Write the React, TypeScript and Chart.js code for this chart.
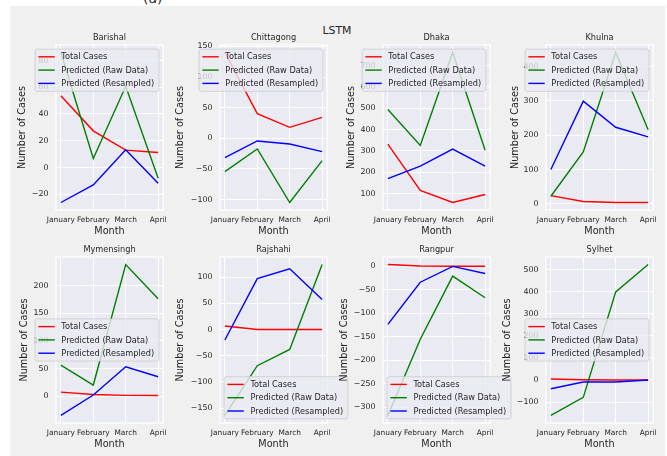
import React, { useEffect, useRef } from 'react';
import { Chart, registerables } from 'chart.js';

Chart.register(...registerables);

const FAMILY = '"DejaVu Sans", "Liberation Sans", sans-serif';
const TEXT = '#262626';

const months = ['January', 'February', 'March', 'April'];
const seriesNames = ['Total Cases', 'Predicted (Raw Data)', 'Predicted (Resampled)'];
const seriesColors = ['#ff0000', '#008000', '#0000ff'];

const barishalTotal = [53.6, 27.4, 13, 11.2];
const barishalRaw = [86, 6.7, 60.7, -8];
const barishalResampled = [-26.2, -13, 13.2, -11.8];
const barishalTicks = [-20, 0, 20, 40, 60, 80];

const chittagongTotal = [140, 40.2, 17.9, 34.2];
const chittagongRaw = [-54.3, -17.4, -104.7, -36.3];
const chittagongResampled = [-31.4, -4.3, -9.2, -21.7];
const chittagongTicks = [-100, -50, 0, 50, 100, 150];

const dhakaTotal = [331, 114, 57.7, 95];
const dhakaRaw = [494, 325, 761, 303];
const dhakaResampled = [170, 228, 308, 228];
const dhakaTicks = [100, 200, 300, 400, 500, 600, 700];

const khulnaTotal = [24, 6.7, 3.8, 3.8];
const khulnaRaw = [22, 151, 441, 216];
const khulnaResampled = [100, 299, 223, 195];
const khulnaTicks = [0, 100, 200, 300, 400];

const mymensinghTotal = [7.2, 3, 1.3, 1];
const mymensinghRaw = [56, 20, 238, 176];
const mymensinghResampled = [-35, 2, 53, 35];
const mymensinghTicks = [0, 50, 100, 150, 200];

const rajshahiTotal = [6.8, 0, 0, 0];
const rajshahiRaw = [-164, -69, -38, 124];
const rajshahiResampled = [-20, 97, 116, 57.5];
const rajshahiTicks = [-150, -100, -50, 0, 50, 100];

const rangpurTotal = [3.5, 0.5, 0, 0];
const rangpurRaw = [-317, -155, -21, -67];
const rangpurResampled = [-123.5, -34, -0.5, -15.5];
const rangpurTicks = [-300, -250, -200, -150, -100, -50, 0];

const sylhetTotal = [4.5, 1, 0, 0];
const sylhetRaw = [-161, -79, 400, 524];
const sylhetResampled = [-40, -9, -9, 0];
const sylhetTicks = [-100, 0, 100, 200, 300, 400, 500];

type Loc = 'ur' | 'cr' | 'll';
type Panel = {
  name: string;
  series: number[][];
  ticks: number[];
  loc: Loc;
  labelX: number;
  col: number;
  row: number;
};

const panels: Panel[] = [
  { name: 'Barishal', series: [barishalTotal, barishalRaw, barishalResampled], ticks: barishalTicks, loc: 'ur', labelX: 22.7, col: 0, row: 0 },
  { name: 'Chittagong', series: [chittagongTotal, chittagongRaw, chittagongResampled], ticks: chittagongTicks, loc: 'ur', labelX: 180, col: 1, row: 0 },
  { name: 'Dhaka', series: [dhakaTotal, dhakaRaw, dhakaResampled], ticks: dhakaTicks, loc: 'ur', labelX: 351.7, col: 2, row: 0 },
  { name: 'Khulna', series: [khulnaTotal, khulnaRaw, khulnaResampled], ticks: khulnaTicks, loc: 'ur', labelX: 515, col: 3, row: 0 },
  { name: 'Mymensingh', series: [mymensinghTotal, mymensinghRaw, mymensinghResampled], ticks: mymensinghTicks, loc: 'cr', labelX: 24.5, col: 0, row: 1 },
  { name: 'Rajshahi', series: [rajshahiTotal, rajshahiRaw, rajshahiResampled], ticks: rajshahiTicks, loc: 'll', labelX: 180, col: 1, row: 1 },
  { name: 'Rangpur', series: [rangpurTotal, rangpurRaw, rangpurResampled], ticks: rangpurTicks, loc: 'll', labelX: 344, col: 2, row: 1 },
  { name: 'Sylhet', series: [sylhetTotal, sylhetRaw, sylhetResampled], ticks: sylhetTicks, loc: 'cr', labelX: 507.7, col: 3, row: 1 },
];

// layout (pixels)
const colLeft = [56, 220, 383, 546];
const plotW = 107;
const rowTop = [45, 257];
const rowBottom = [210, 423];
const AXIS_W = 60;
const RIGHT_PAD = 30;
const TOP_H = 20;
const X_H = 28;

const fmt = (v: number) => (v < 0 ? '\u2212' + Math.abs(v) : String(v));

const figPlugin = {
  id: 'fig',
  beforeDraw(chart: any) {
    const { ctx, chartArea: a } = chart;
    ctx.save();
    ctx.fillStyle = '#EAEAF2';
    ctx.fillRect(a.left, a.top, a.right - a.left, a.bottom - a.top);
    ctx.restore();
  },
  afterDatasetsDraw(chart: any) {
    const { ctx, chartArea: a } = chart;
    ctx.save();
    ctx.strokeStyle = '#ffffff';
    ctx.lineWidth = 1.25;
    ctx.strokeRect(a.left, a.top, a.right - a.left, a.bottom - a.top);
    ctx.restore();
  },
  afterDraw(chart: any, _args: any, opts: any) {
    const { ctx, chartArea: a } = chart;
    const fs = 8.2;
    ctx.save();
    ctx.font = `${fs}px ${FAMILY}`;
    const tw = Math.max(...seriesNames.map((s) => ctx.measureText(s).width));
    const pad = 3.3, hl = 16.4, gap = 6.6, rowH = 13.3;
    const w = pad + hl + gap + tw + pad + 1.5;
    const h = 42.2;
    let x = 0, y = 0;
    if (opts.loc === 'ur') { x = a.right - 4.1 - w; y = a.top + 4.1; }
    else if (opts.loc === 'cr') { x = a.right - 4.1 - w; y = (a.top + a.bottom) / 2 - h / 2; }
    else { x = a.left + 4.1; y = a.bottom - 4.1 - h; }
    ctx.beginPath();
    if ((ctx as any).roundRect) (ctx as any).roundRect(x, y, w, h, 2);
    else ctx.rect(x, y, w, h);
    ctx.fillStyle = 'rgba(234,234,242,0.8)';
    ctx.fill();
    ctx.strokeStyle = 'rgba(204,204,204,0.8)';
    ctx.lineWidth = 1;
    ctx.stroke();
    seriesNames.forEach((s, i) => {
      const cy = y + 7.7 + i * rowH;
      ctx.beginPath();
      ctx.strokeStyle = seriesColors[i];
      ctx.lineWidth = 1.4;
      ctx.moveTo(x + pad, cy);
      ctx.lineTo(x + pad + hl, cy);
      ctx.stroke();
      ctx.fillStyle = TEXT;
      ctx.textBaseline = 'middle';
      ctx.textAlign = 'left';
      ctx.fillText(s, x + pad + hl + gap, cy + 0.5);
    });
    ctx.restore();
  },
};

function PanelChart({ p }: { p: Panel }) {
  const ref = useRef<HTMLCanvasElement | null>(null);
  const left = colLeft[p.col] - AXIS_W;
  const top = rowTop[p.row] - TOP_H;
  const plotH = rowBottom[p.row] - rowTop[p.row];
  const width = AXIS_W + plotW + RIGHT_PAD;
  const height = TOP_H + plotH + X_H;

  useEffect(() => {
    if (!ref.current) return;
    const all = p.series.flat();
    const lo = Math.min(...all);
    const hi = Math.max(...all);
    const m = (hi - lo) * 0.05;
    const chart = new Chart(ref.current, {
      type: 'line',
      data: {
        datasets: p.series.map((vals, i) => ({
          label: seriesNames[i],
          data: vals.map((v, j) => ({ x: j, y: v })),
          borderColor: seriesColors[i],
          backgroundColor: seriesColors[i],
          borderWidth: 1.4,
          pointRadius: 0,
          tension: 0,
          fill: false,
          order: 3 - i,
        })),
      },
      options: {
        responsive: false,
        animation: false,
        devicePixelRatio: 1,
        events: [],
        layout: { padding: { left: 0, right: RIGHT_PAD, top: 0, bottom: 0 } },
        plugins: {
          legend: { display: false },
          tooltip: { enabled: false },
          title: {
            display: true,
            text: p.name,
            fullSize: false,
            color: TEXT,
            font: { size: 8.2, family: FAMILY, weight: 'normal' },
            padding: { top: 7.8, bottom: 2.36 },
          },
          fig: { loc: p.loc },
        } as any,
        scales: {
          x: {
            type: 'linear',
            min: -0.15,
            max: 3.15,
            afterBuildTicks: (s: any) => { s.ticks = months.map((_, i) => ({ value: i })); },
            afterFit: (s: any) => { s.height = X_H; },
            ticks: {
              callback: (v: any) => months[Math.round(Number(v))],
              autoSkip: false,
              maxRotation: 0,
              minRotation: 0,
              padding: 5.5,
              color: TEXT,
              font: { size: 7.4, family: FAMILY },
            },
            grid: { color: '#ffffff', lineWidth: 1, drawTicks: false },
            border: { display: false },
            title: {
              display: true,
              text: 'Month',
              color: TEXT,
              font: { size: 9.7, family: FAMILY },
              padding: { top: 0, bottom: 0.5 },
            },
          },
          y: {
            type: 'linear',
            min: lo - m,
            max: hi + m,
            afterBuildTicks: (s: any) => { s.ticks = p.ticks.map((v) => ({ value: v })); },
            afterFit: (s: any) => { s.width = AXIS_W; },
            ticks: {
              callback: (v: any) => fmt(Number(v)),
              padding: 7.5,
              color: TEXT,
              font: { size: 7.9, family: FAMILY },
            },
            grid: { color: '#ffffff', lineWidth: 1, drawTicks: false },
            border: { display: false },
            title: {
              display: true,
              text: 'Number of Cases',
              color: TEXT,
              font: { size: 9.7, family: FAMILY },
              padding: { top: p.labelX - 5.82 - left, bottom: 0 },
            },
          },
        },
      },
      plugins: [figPlugin as any],
    });
    return () => chart.destroy();
  }, []);

  return (
    <canvas
      ref={ref}
      width={width}
      height={height}
      style={{ position: 'absolute', left, top, width, height }}
    />
  );
}

export default function App() {
  return (
    <div
      style={{
        position: 'absolute',
        left: 0,
        top: 0,
        width: 667,
        height: 456,
        background: '#ffffff',
        overflow: 'hidden',
        fontFamily: FAMILY,
      }}
    >
      <div
        style={{
          position: 'absolute',
          left: 143,
          top: -8.6,
          fontSize: 14,
          lineHeight: '14px',
          color: TEXT,
          whiteSpace: 'nowrap',
        }}
      >
        (a)
      </div>
      <div
        style={{
          position: 'absolute',
          left: 10,
          top: 6,
          width: 655,
          height: 450,
          background: '#f0f0f0',
        }}
      />
      <div
        style={{
          position: 'absolute',
          left: 337,
          top: 26.2,
          transform: 'translateX(-50%)',
          fontSize: 10.9,
          lineHeight: '10.9px',
          color: TEXT,
          whiteSpace: 'nowrap',
        }}
      >
        LSTM
      </div>
      {panels.map((p) => (
        <PanelChart key={p.name} p={p} />
      ))}
    </div>
  );
}
